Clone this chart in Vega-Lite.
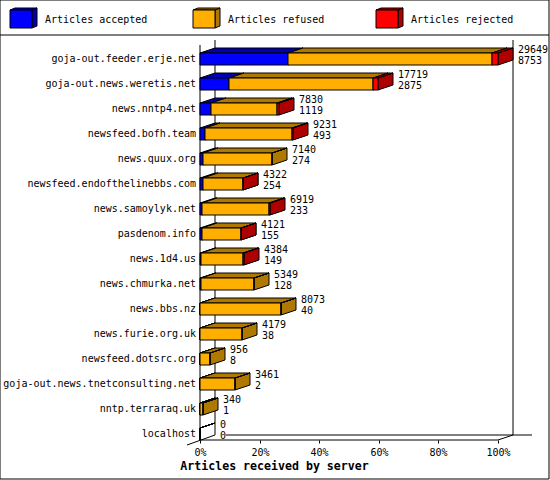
{"$schema":"https://vega.github.io/schema/vega-lite/v6.json","width":298,"height":400,"autosize":{"type":"none"},"padding":{"left":200,"top":40,"right":52,"bottom":40},"background":"white","view":{"stroke":null},
"config":{"axisY":{"disable":true},"axis":{"grid":false},"text":{"font":"DejaVu Sans Mono","fontSize":10,"fill":"black"}},
"data":{"values":[
{"server":"goja-out.feeder.erje.net","total":29649,"accepted":8753,"refused":20296,"rejected":600},
{"server":"goja-out.news.weretis.net","total":17719,"accepted":2875,"refused":14344,"rejected":500},
{"server":"news.nntp4.net","total":7830,"accepted":1119,"refused":6541,"rejected":170},
{"server":"newsfeed.bofh.team","total":9231,"accepted":493,"refused":8678,"rejected":60},
{"server":"news.quux.org","total":7140,"accepted":274,"refused":6866,"rejected":0},
{"server":"newsfeed.endofthelinebbs.com","total":4322,"accepted":254,"refused":4048,"rejected":20},
{"server":"news.samoylyk.net","total":6919,"accepted":233,"refused":6666,"rejected":20},
{"server":"pasdenom.info","total":4121,"accepted":155,"refused":3951,"rejected":15},
{"server":"news.1d4.us","total":4384,"accepted":149,"refused":4135,"rejected":100},
{"server":"news.chmurka.net","total":5349,"accepted":128,"refused":5221,"rejected":0},
{"server":"news.bbs.nz","total":8073,"accepted":40,"refused":8033,"rejected":0},
{"server":"news.furie.org.uk","total":4179,"accepted":38,"refused":4141,"rejected":0},
{"server":"newsfeed.dotsrc.org","total":956,"accepted":8,"refused":948,"rejected":0},
{"server":"goja-out.news.tnetconsulting.net","total":3461,"accepted":2,"refused":3459,"rejected":0},
{"server":"nntp.terraraq.uk","total":340,"accepted":1,"refused":339,"rejected":0},
{"server":"localhost","total":0,"accepted":0,"refused":0,"rejected":0}
]},
"transform":[{"window":[{"op":"row_number","as":"rank"}]}],
"layer":[
{"data":{"values":[{}]},"mark":{"type":"rect","fill":null,"stroke":"black","strokeWidth":1},"encoding":{"x":{"datum":-19898,"type":"quantitative","scale":{"domain":[0,29649],"round":true,"nice":false,"zero":false},"axis":{"values":[0,2964.9,5929.8,8894.7,11859.6,14824.5,17789.4,20754.3,23719.2,26684.1,29649],"labelExpr":"round(datum.value/296.49)+'%'","domain":false,"tickSize":3,"tickColor":"black","labelColor":"black","labelFont":"DejaVu Sans Mono","labelFontSize":10,"labelPadding":4,"labelOverlap":false,"labelFlush":false,"title":"Articles received by server","titleFont":"DejaVu Sans Mono","titleFontSize":11.6,"titleFontWeight":"bold","titleColor":"black","titleX":74,"titleY":31,"titleBaseline":"bottom","titleAnchor":"middle","titleAlign":"center"}},"x2":{"datum":34722},"y":{"datum":-1.36,"type":"quantitative","scale":{"domain":[16.24,0.24],"round":true,"nice":false,"zero":false}},"y2":{"datum":17.8}}},
{"data":{"values":[{}]},"mark":{"type":"rule","color":"black"},"encoding":{"x":{"datum":-19898,"type":"quantitative","scale":{"domain":[0,29649],"round":true,"nice":false,"zero":false}},"x2":{"datum":34722},"y":{"datum":0.04,"type":"quantitative","scale":{"domain":[16.24,0.24],"round":true,"nice":false,"zero":false}}}},
{"data":{"values":[{}]},"mark":{"type":"rule","color":"black"},"encoding":{"x":{"datum":0,"type":"quantitative","scale":{"domain":[0,29649],"round":true,"nice":false,"zero":false}},"y":{"datum":0.44,"type":"quantitative","scale":{"domain":[16.24,0.24],"round":true,"nice":false,"zero":false}},"y2":{"datum":16.24}}},
{"data":{"values":[{}]},"mark":{"type":"rule","color":"black"},"encoding":{"x":{"datum":1492,"type":"quantitative","scale":{"domain":[0,29649],"round":true,"nice":false,"zero":false}},"y":{"datum":0.24,"type":"quantitative","scale":{"domain":[16.24,0.24],"round":true,"nice":false,"zero":false}},"y2":{"datum":16.04}}},
{"data":{"values":[{}]},"mark":{"type":"rule","color":"black"},"encoding":{"x":{"datum":31140,"type":"quantitative","scale":{"domain":[0,29649],"round":true,"nice":false,"zero":false}},"y":{"datum":0.24,"type":"quantitative","scale":{"domain":[16.24,0.24],"round":true,"nice":false,"zero":false}},"y2":{"datum":16.04}}},
{"data":{"values":[{}]},"mark":{"type":"rule","color":"black"},"encoding":{"x":{"datum":2587,"type":"quantitative","scale":{"domain":[0,29649],"round":true,"nice":false,"zero":false}},"x2":{"datum":33031},"y":{"datum":16.04,"type":"quantitative","scale":{"domain":[16.24,0.24],"round":true,"nice":false,"zero":false}}}},
{"data":{"values":[{}]},"mark":{"type":"rule","color":"black"},"encoding":{"x":{"datum":0,"type":"quantitative","scale":{"domain":[0,29649],"round":true,"nice":false,"zero":false}},"x2":{"datum":29649},"y":{"datum":16.24,"type":"quantitative","scale":{"domain":[16.24,0.24],"round":true,"nice":false,"zero":false}}}},
{"data":{"values":[{}]},"mark":{"type":"rule","color":"black"},"encoding":{"x":{"datum":29649,"type":"quantitative","scale":{"domain":[0,29649],"round":true,"nice":false,"zero":false}},"x2":{"datum":31140},"y":{"datum":16.24,"type":"quantitative","scale":{"domain":[16.24,0.24],"round":true,"nice":false,"zero":false}},"y2":{"datum":16.04}}},
{"data":{"values":[{}]},"mark":{"type":"rule","color":"black"},"encoding":{"x":{"datum":-1293,"type":"quantitative","scale":{"domain":[0,29649],"round":true,"nice":false,"zero":false}},"x2":{"datum":1492},"y":{"datum":16.44,"type":"quantitative","scale":{"domain":[16.24,0.24],"round":true,"nice":false,"zero":false}},"y2":{"datum":16.04}}},
{"transform":[{"fold":["accepted","refused","rejected"],"as":["series","count"]},{"stack":"count","groupby":["server"],"sort":[{"field":"series"}],"as":["c0","c1"]},{"filter":"datum.count>0"},{"calculate":"[0,1]","as":"k"},{"flatten":["k"]},{"calculate":"datum.c1+datum.k*1492","as":"px"},{"calculate":"datum.rank-0.24-datum.k*0.2","as":"py"},{"calculate":"datum.rank+0.24-datum.k*0.2","as":"py2"}],
"mark":{"type":"area","orient":"vertical","stroke":"black","strokeWidth":1},"encoding":{"x":{"field":"px","type":"quantitative","scale":{"domain":[0,29649],"round":true,"nice":false,"zero":false}},"y":{"field":"py","type":"quantitative","stack":null,"scale":{"domain":[16.24,0.24],"round":true,"nice":false,"zero":false}},"y2":{"field":"py2"},"detail":{"field":"server"},"color":{"field":"series","scale":{"domain":["accepted","refused","rejected"],"range":["#0000af","#af7800","#af0000"]},"legend":null}}},
{"transform":[{"fold":["accepted","refused","rejected"],"as":["series","count"]},{"stack":"count","groupby":["server"],"sort":[{"field":"series"}],"as":["c0","c1"]},{"calculate":"[0,1]","as":"k"},{"flatten":["k"]},{"calculate":"datum.c0+datum.k*1492","as":"tx"},{"calculate":"datum.c1+datum.k*1492","as":"tx2"},{"calculate":"datum.rank-0.24-datum.k*0.2","as":"ty"}],
"mark":{"type":"area","orient":"horizontal","stroke":"black","strokeWidth":1},"encoding":{"x":{"field":"tx","type":"quantitative","stack":null,"scale":{"domain":[0,29649],"round":true,"nice":false,"zero":false}},"x2":{"field":"tx2"},"y":{"field":"ty","type":"quantitative","scale":{"domain":[16.24,0.24],"round":true,"nice":false,"zero":false}},"detail":{"field":"server"},"color":{"field":"series","scale":{"domain":["accepted","refused","rejected"],"range":["#0000af","#af7800","#af0000"]},"legend":null}}},
{"transform":[{"fold":["accepted","refused","rejected"],"as":["series","count"]},{"stack":"count","groupby":["server"],"sort":[{"field":"series"}],"as":["c0","c1"]},{"calculate":"datum.rank-0.24","as":"fy"},{"calculate":"datum.rank+0.24","as":"fy2"}],
"mark":{"type":"rect","stroke":"black","strokeWidth":1},"encoding":{"x":{"field":"c0","type":"quantitative","scale":{"domain":[0,29649],"round":true,"nice":false,"zero":false}},"x2":{"field":"c1"},"y":{"field":"fy","type":"quantitative","scale":{"domain":[16.24,0.24],"round":true,"nice":false,"zero":false}},"y2":{"field":"fy2"},"color":{"field":"series","scale":{"domain":["accepted","refused","rejected"],"range":["#0000ff","#ffaf00","#ff0000"]},"legend":null}}},
{"mark":{"type":"text","align":"right","baseline":"middle","dx":-4},"encoding":{"x":{"datum":0,"type":"quantitative","scale":{"domain":[0,29649],"round":true,"nice":false,"zero":false}},"y":{"field":"rank","type":"quantitative","scale":{"domain":[16.24,0.24],"round":true,"nice":false,"zero":false}},"text":{"field":"server"}}},
{"mark":{"type":"text","align":"left","baseline":"middle","dx":20,"dy":-9},"encoding":{"x":{"field":"total","type":"quantitative","scale":{"domain":[0,29649],"round":true,"nice":false,"zero":false}},"y":{"field":"rank","type":"quantitative","scale":{"domain":[16.24,0.24],"round":true,"nice":false,"zero":false}},"text":{"field":"total"}}},
{"mark":{"type":"text","align":"left","baseline":"middle","dx":20,"dy":2},"encoding":{"x":{"field":"total","type":"quantitative","scale":{"domain":[0,29649],"round":true,"nice":false,"zero":false}},"y":{"field":"rank","type":"quantitative","scale":{"domain":[16.24,0.24],"round":true,"nice":false,"zero":false}},"text":{"field":"accepted"}}},
{"data":{"values":[{"key":"accepted","label":"Articles accepted"},{"key":"refused","label":"Articles refused"},{"key":"rejected","label":"Articles rejected"}]},
"transform":[{"window":[{"op":"row_number","as":"slot"}]},{"calculate":"(183*(datum.slot-1)-190)*99.49","as":"lx"},{"calculate":"datum.lx+22*99.49","as":"lx2"},{"calculate":"[0,1]","as":"k"},{"flatten":["k"]},{"calculate":"datum.lx2+datum.k*5*99.49","as":"sx"},{"calculate":"-0.96-datum.k*0.08","as":"sy"},{"calculate":"-0.24-datum.k*0.08","as":"sy2"}],
"mark":{"type":"area","orient":"vertical","stroke":"black","strokeWidth":1},"encoding":{"x":{"field":"sx","type":"quantitative","scale":{"domain":[0,29649],"round":true,"nice":false,"zero":false}},"y":{"field":"sy","type":"quantitative","stack":null,"scale":{"domain":[16.24,0.24],"round":true,"nice":false,"zero":false}},"y2":{"field":"sy2"},"detail":{"field":"key"},"color":{"field":"key","scale":{"domain":["accepted","refused","rejected"],"range":["#0000af","#af7800","#af0000"]},"legend":null}}},
{"data":{"values":[{"key":"accepted","label":"Articles accepted"},{"key":"refused","label":"Articles refused"},{"key":"rejected","label":"Articles rejected"}]},
"transform":[{"window":[{"op":"row_number","as":"slot"}]},{"calculate":"(183*(datum.slot-1)-190)*99.49","as":"lx"},{"calculate":"datum.lx+22*99.49","as":"lx2"},{"calculate":"[0,1]","as":"k"},{"flatten":["k"]},{"calculate":"datum.lx+datum.k*5*99.49","as":"tx"},{"calculate":"datum.lx2+datum.k*5*99.49","as":"tx2"},{"calculate":"-0.96-datum.k*0.08","as":"ty"}],
"mark":{"type":"area","orient":"horizontal","stroke":"black","strokeWidth":1},"encoding":{"x":{"field":"tx","type":"quantitative","stack":null,"scale":{"domain":[0,29649],"round":true,"nice":false,"zero":false}},"x2":{"field":"tx2"},"y":{"field":"ty","type":"quantitative","scale":{"domain":[16.24,0.24],"round":true,"nice":false,"zero":false}},"detail":{"field":"key"},"color":{"field":"key","scale":{"domain":["accepted","refused","rejected"],"range":["#0000af","#af7800","#af0000"]},"legend":null}}},
{"data":{"values":[{"key":"accepted","label":"Articles accepted"},{"key":"refused","label":"Articles refused"},{"key":"rejected","label":"Articles rejected"}]},
"transform":[{"window":[{"op":"row_number","as":"slot"}]},{"calculate":"(183*(datum.slot-1)-190)*99.49","as":"lx"},{"calculate":"datum.lx+22*99.49","as":"lx2"},{"calculate":"-0.96","as":"ly"},{"calculate":"-0.24","as":"ly2"}],
"mark":{"type":"rect","stroke":"black","strokeWidth":1},"encoding":{"x":{"field":"lx","type":"quantitative","scale":{"domain":[0,29649],"round":true,"nice":false,"zero":false}},"x2":{"field":"lx2"},"y":{"field":"ly","type":"quantitative","scale":{"domain":[16.24,0.24],"round":true,"nice":false,"zero":false}},"y2":{"field":"ly2"},"color":{"field":"key","scale":{"domain":["accepted","refused","rejected"],"range":["#0000ff","#ffaf00","#ff0000"]},"legend":null}}},
{"data":{"values":[{"key":"accepted","label":"Articles accepted"},{"key":"refused","label":"Articles refused"},{"key":"rejected","label":"Articles rejected"}]},
"transform":[{"window":[{"op":"row_number","as":"slot"}]},{"calculate":"(183*(datum.slot-1)-190)*99.49","as":"lx"},{"calculate":"-0.56","as":"ly"}],
"mark":{"type":"text","align":"left","baseline":"middle","dx":35},"encoding":{"x":{"field":"lx","type":"quantitative","scale":{"domain":[0,29649],"round":true,"nice":false,"zero":false}},"y":{"field":"ly","type":"quantitative","scale":{"domain":[16.24,0.24],"round":true,"nice":false,"zero":false}},"text":{"field":"label"}}}
],
"resolve":{"scale":{"color":"independent"}}}
